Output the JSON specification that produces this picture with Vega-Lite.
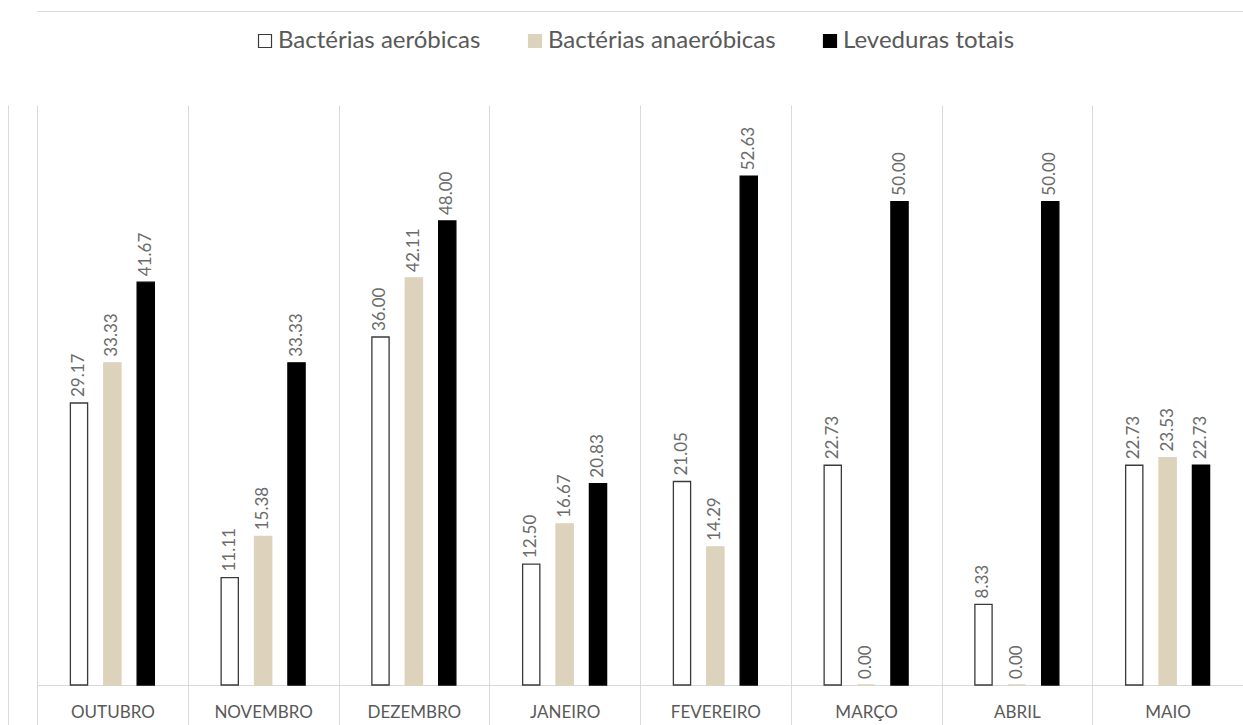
{
  "$schema": "https://vega.github.io/schema/vega-lite/v6.json",
  "width": 1206,
  "height": 620,
  "autosize": {"type": "none"},
  "padding": {"left": 37, "top": 105, "right": 0, "bottom": 0},
  "background": "white",
  "config": {
    "view": {"stroke": null},
    "font": "Lato"
  },
  "data": {
    "values": [
      {"mes": "OUTUBRO", "grupo": "Bactérias aeróbicas", "valor": 29.17},
      {"mes": "OUTUBRO", "grupo": "Bactérias anaeróbicas", "valor": 33.33},
      {"mes": "OUTUBRO", "grupo": "Leveduras totais", "valor": 41.67},
      {"mes": "NOVEMBRO", "grupo": "Bactérias aeróbicas", "valor": 11.11},
      {"mes": "NOVEMBRO", "grupo": "Bactérias anaeróbicas", "valor": 15.38},
      {"mes": "NOVEMBRO", "grupo": "Leveduras totais", "valor": 33.33},
      {"mes": "DEZEMBRO", "grupo": "Bactérias aeróbicas", "valor": 36.00},
      {"mes": "DEZEMBRO", "grupo": "Bactérias anaeróbicas", "valor": 42.11},
      {"mes": "DEZEMBRO", "grupo": "Leveduras totais", "valor": 48.00},
      {"mes": "JANEIRO", "grupo": "Bactérias aeróbicas", "valor": 12.50},
      {"mes": "JANEIRO", "grupo": "Bactérias anaeróbicas", "valor": 16.67},
      {"mes": "JANEIRO", "grupo": "Leveduras totais", "valor": 20.83},
      {"mes": "FEVEREIRO", "grupo": "Bactérias aeróbicas", "valor": 21.05},
      {"mes": "FEVEREIRO", "grupo": "Bactérias anaeróbicas", "valor": 14.29},
      {"mes": "FEVEREIRO", "grupo": "Leveduras totais", "valor": 52.63},
      {"mes": "MARÇO", "grupo": "Bactérias aeróbicas", "valor": 22.73},
      {"mes": "MARÇO", "grupo": "Bactérias anaeróbicas", "valor": 0.00},
      {"mes": "MARÇO", "grupo": "Leveduras totais", "valor": 50.00},
      {"mes": "ABRIL", "grupo": "Bactérias aeróbicas", "valor": 8.33},
      {"mes": "ABRIL", "grupo": "Bactérias anaeróbicas", "valor": 0.00},
      {"mes": "ABRIL", "grupo": "Leveduras totais", "valor": 50.00},
      {"mes": "MAIO", "grupo": "Bactérias aeróbicas", "valor": 22.73},
      {"mes": "MAIO", "grupo": "Bactérias anaeróbicas", "valor": 23.53},
      {"mes": "MAIO", "grupo": "Leveduras totais", "valor": 22.73}
    ]
  },
  "encoding": {
    "xOffset": {
      "field": "grupo",
      "type": "nominal",
      "scale": {
        "domain": ["Bactérias aeróbicas", "Bactérias anaeróbicas", "Leveduras totais"],
        "paddingInner": 0.484,
        "paddingOuter": 1.173
      }
    },
    "y": {
      "field": "valor",
      "type": "quantitative",
      "scale": {"domain": [-4.14, 60], "nice": false, "zero": false},
      "axis": {
        "title": null,
        "values": [0],
        "grid": true,
        "gridColor": "#d9d9d9",
        "gridWidth": 1,
        "labels": false,
        "ticks": false,
        "domain": true,
        "domainColor": "#d9d9d9",
        "domainWidth": 1,
        "offset": 29
      }
    }
  },
  "layer": [
    {
      "mark": {"type": "bar", "strokeWidth": 1.3},
      "encoding": {
        "x": {
          "field": "mes",
          "type": "nominal",
          "scale": {
            "domain": ["OUTUBRO", "NOVEMBRO", "DEZEMBRO", "JANEIRO", "FEVEREIRO", "MARÇO", "ABRIL", "MAIO"],
            "paddingInner": 0,
            "paddingOuter": 0
          },
          "axis": {
            "title": null,
            "domain": false,
            "ticks": false,
            "grid": true,
            "tickBand": "extent",
            "gridColor": "#d9d9d9",
            "gridWidth": 1,
            "labelAngle": 0,
            "labelFont": "Lato",
            "labelFontSize": 17,
            "labelColor": "#595959",
            "labelPadding": -21
          }
        },
        "fill": {
          "field": "grupo",
          "type": "nominal",
          "scale": {
            "domain": ["Bactérias aeróbicas", "Bactérias anaeróbicas", "Leveduras totais"],
            "range": ["#ffffff", "#ddd2bb", "#000000"]
          },
          "legend": {
            "title": null,
            "orient": "none",
            "legendX": 216,
            "legendY": -76,
            "direction": "horizontal",
            "symbolType": "square",
            "symbolSize": 169,
            "symbolStrokeWidth": 1.2,
            "labelFont": "Lato",
            "labelFontSize": 24,
            "labelColor": "#595959",
            "labelLimit": 0,
            "labelOffset": 1,
            "columnPadding": 42
          }
        },
        "stroke": {
          "field": "grupo",
          "type": "nominal",
          "scale": {
            "domain": ["Bactérias aeróbicas", "Bactérias anaeróbicas", "Leveduras totais"],
            "range": ["#3a3a3a", "#ddd2bb", "#000000"]
          },
          "legend": {
            "title": null,
            "orient": "none",
            "legendX": 216,
            "legendY": -76,
            "direction": "horizontal",
            "symbolType": "square",
            "symbolSize": 169,
            "symbolStrokeWidth": 1.2,
            "labelFont": "Lato",
            "labelFontSize": 24,
            "labelColor": "#595959",
            "labelLimit": 0,
            "labelOffset": 1,
            "columnPadding": 42
          }
        }
      }
    },
    {
      "mark": {
        "type": "text",
        "angle": 270,
        "align": "left",
        "baseline": "middle",
        "dx": 6,
        "font": "Lato",
        "fontSize": 17,
        "color": "#6b6b6b"
      },
      "encoding": {
        "x": {
          "field": "mes",
          "type": "nominal",
          "axis": {
            "orient": "top",
            "title": null,
            "labels": false,
            "ticks": false,
            "grid": false,
            "domain": true,
            "domainColor": "#d9d9d9",
            "domainWidth": 1,
            "offset": 94
          }
        },
        "text": {"field": "valor", "type": "quantitative", "format": ".2f"}
      }
    }
  ],
  "resolve": {"axis": {"x": "independent"}}
}
